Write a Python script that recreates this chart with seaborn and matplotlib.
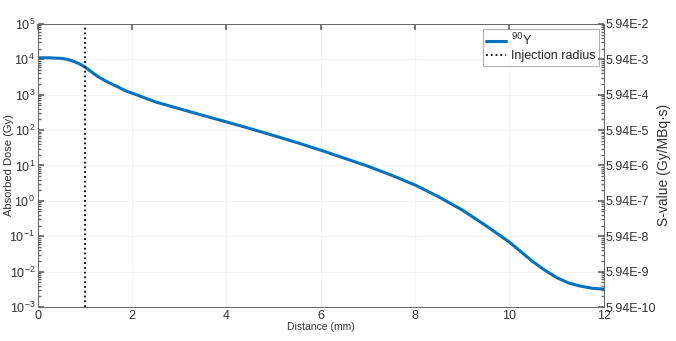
import numpy as np
import pandas as pd
import seaborn as sns
import matplotlib
matplotlib.use("Agg")
import matplotlib.pyplot as plt
from matplotlib.ticker import FixedLocator, FixedFormatter, LogLocator, NullFormatter

# values
distance_mm = [0, 0.25, 0.5, 0.6, 0.7, 0.8, 0.9, 1.0, 1.1, 1.2, 1.3, 1.4, 1.5,
               1.7, 1.85, 2, 2.5, 3, 3.5, 4, 4.5, 5, 5.5, 6, 6.5, 7, 7.5, 8,
               8.5, 9, 9.5, 10, 10.25, 10.5, 10.75, 11, 11.25, 11.5, 11.75, 12]
dose_gy = [11000, 11000, 10600, 10100, 9300, 8300, 7200, 6000, 4800, 3800,
           3100, 2600, 2200, 1650, 1300, 1100, 620, 400, 260, 170, 110, 70, 44,
           27, 16, 9.5, 5.3, 2.8, 1.3, 0.55, 0.2, 0.068, 0.036, 0.019, 0.011,
           0.0068, 0.0048, 0.0039, 0.0034, 0.0032]
injection_radius = 1.0
svalue_exps = list(range(-10, -1))
x_ticks = [0, 2, 4, 6, 8, 10, 12]

sns.set_theme(style="white")
plt.rcParams['font.family'] = ['Liberation Sans', 'DejaVu Sans']
plt.rcParams['font.size'] = 9

df = pd.DataFrame({"Distance": distance_mm, "Dose": dose_gy})

fig = plt.figure(figsize=(6.76, 3.41), dpi=100)
ax = fig.add_axes([0.056, 0.0997, 0.837, 0.8303])

sns.lineplot(data=df, x="Distance", y="Dose", ax=ax, color="#0072BD",
             linewidth=2.2, label=r"$^{90}$Y")
ax.axvline(injection_radius, color="black", linestyle=":", linewidth=1.3,
           label="Injection radius")

ax.set_yscale("log")
ax.set_xlim(0, 12)
ax.set_ylim(1e-3, 1e5)
ax.set_xticks(x_ticks)
ax.yaxis.set_major_locator(LogLocator(base=10, numticks=20))
ax.yaxis.set_minor_locator(LogLocator(base=10, subs=np.arange(2, 10), numticks=20))
ax.yaxis.set_minor_formatter(NullFormatter())
ax.grid(True, which="major", color="#f3f3f3", linewidth=0.8)
ax.tick_params(which="both", direction="in", top=True, colors="#666666",
               labelcolor="#333333", labelsize=9, pad=2)
ax.tick_params(which="major", length=4)
ax.tick_params(which="minor", length=2)
for s in ax.spines.values():
    s.set_color("#666666")
    s.set_linewidth(0.6)

ax.set_xlabel("Distance (mm)", fontsize=7.5, color="#333333", labelpad=0)
ax.set_ylabel("Absorbed Dose (Gy)", fontsize=8, color="#333333")
ax.yaxis.set_label_coords(-0.043, 0.5)

ax2 = ax.twinx()
ax2.set_yscale("log")
ax2.set_ylim(5.94e-10, 5.94e-2)
ax2.yaxis.set_major_locator(FixedLocator([5.94 * 10.0 ** e for e in svalue_exps]))
ax2.yaxis.set_major_formatter(FixedFormatter([f"5.94E{e}" for e in svalue_exps]))
ax2.yaxis.set_minor_locator(FixedLocator([m * 5.94 * 10.0 ** e for e in svalue_exps[:-1]
                                          for m in range(2, 10)]))
ax2.yaxis.set_minor_formatter(NullFormatter())
ax2.tick_params(which="both", direction="in", colors="#666666",
                labelcolor="#333333", labelsize=9, pad=1)
ax2.tick_params(which="major", length=4)
ax2.tick_params(which="minor", length=2)
ax2.set_ylabel("S-value (Gy/MBq\u00b7s)", fontsize=10, color="#333333")
ax2.yaxis.set_label_coords(1.095, 0.5)
ax2.grid(False)
for s in ax2.spines.values():
    s.set_color("#666666")
    s.set_linewidth(0.6)

leg = ax.legend(loc="upper right", fontsize=9, frameon=True, fancybox=False,
                borderpad=0.25, handlelength=1.6, handletextpad=0.4,
                labelspacing=0.15, borderaxespad=0.4)
leg.get_frame().set_edgecolor("#888888")
leg.get_frame().set_linewidth(0.6)

fig.savefig("out.png", dpi=100)
